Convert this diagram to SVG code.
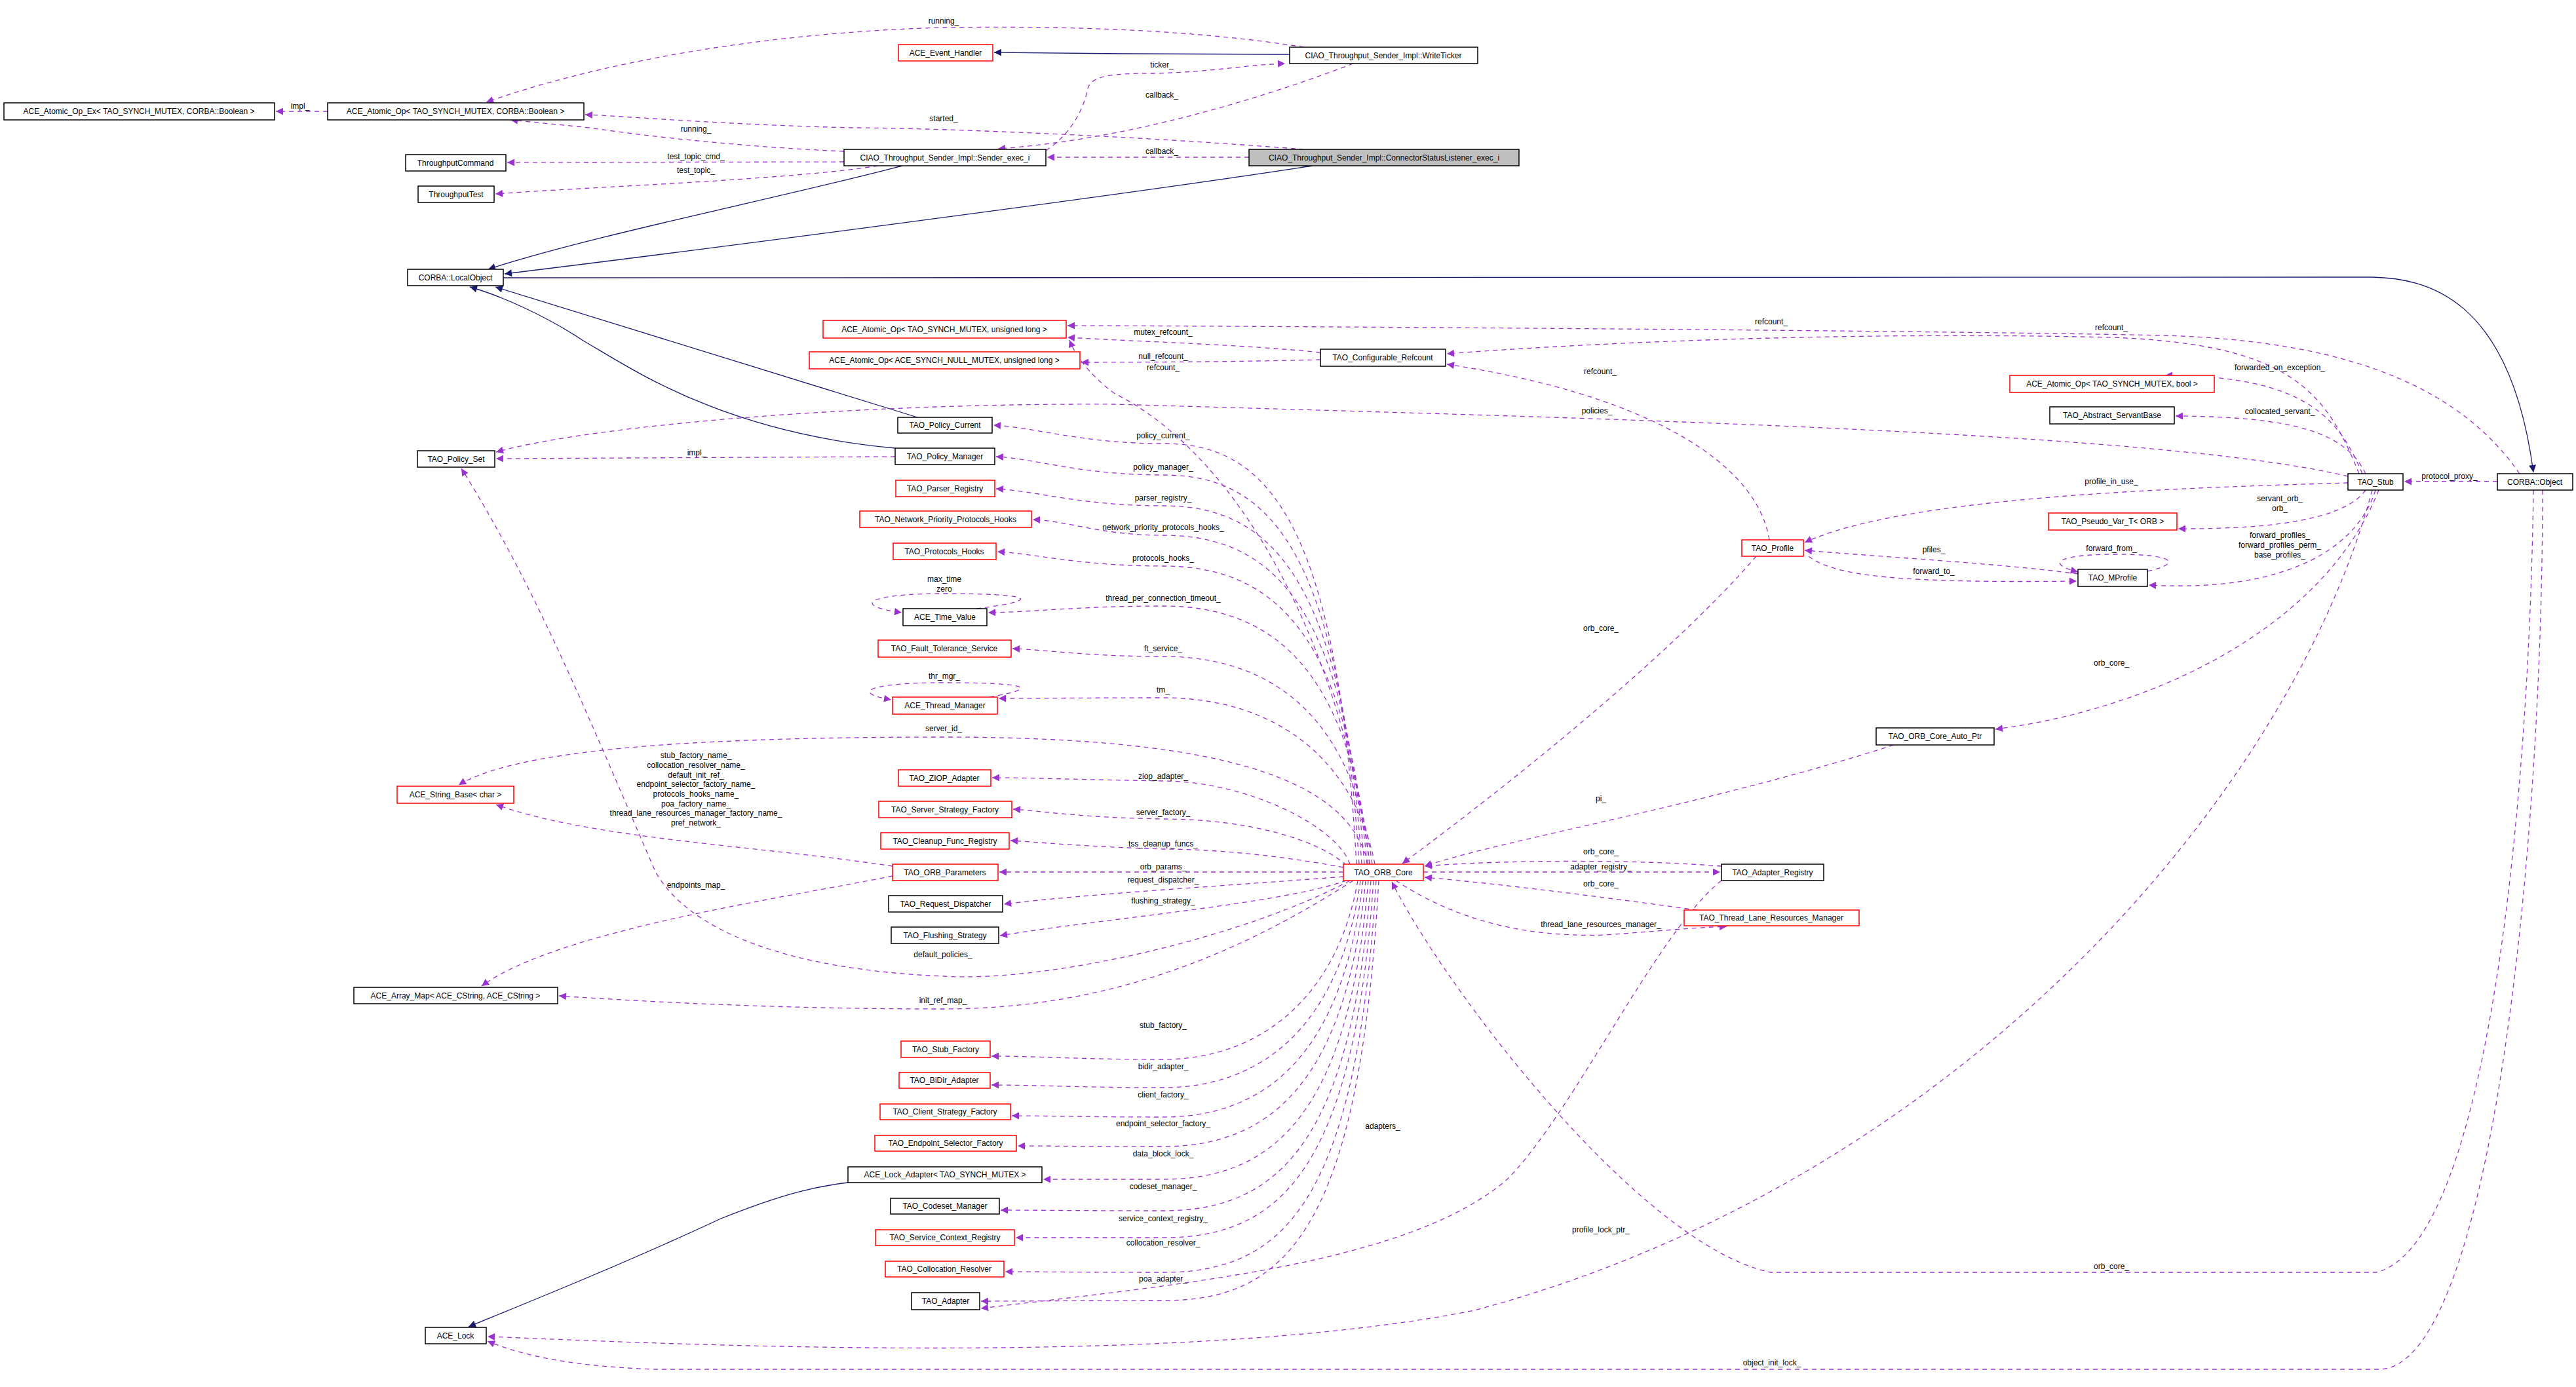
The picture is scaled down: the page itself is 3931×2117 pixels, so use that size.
<svg xmlns="http://www.w3.org/2000/svg" width="3931" height="2117" viewBox="0 0 3931 2117">
<style>
.n rect{fill:#fff;stroke:#000;stroke-width:1.5}
.n.r rect{stroke:#ff0000}
.n.g rect{fill:#bfbfbf}
text{font-family:"Liberation Sans",Arial,sans-serif;font-size:12px;fill:#000}
.n text{text-anchor:middle}
.l text{text-anchor:middle}
.e path{fill:none;stroke:#9a32cd;stroke-width:1.3;stroke-dasharray:7,6;marker-end:url(#ap)}
.e path.i{stroke:#191970;stroke-dasharray:none;marker-end:url(#an)}
</style>
<defs>
<marker id="ap" viewBox="0 0 10 10" refX="10" refY="5" markerWidth="14" markerHeight="11" markerUnits="userSpaceOnUse" orient="auto"><path d="M0,0 L10,5 L0,10 z" fill="#9a32cd"/></marker>
<marker id="an" viewBox="0 0 10 10" refX="10" refY="5" markerWidth="14" markerHeight="11" markerUnits="userSpaceOnUse" orient="auto"><path d="M0,0 L10,5 L0,10 z" fill="#191970"/></marker>
</defs>
<rect width="3931" height="2117" fill="#fff"/>
<g id="edges" class="e">
<path class="i" d="M1968,83 L1715,82 L1517,80"/>
<path class="i" d="M1377,253 C1200,300 900,360 745,411"/>
<path class="i" d="M2003,253 C1700,300 1000,390 770,418"/>
<path class="i" d="M1400,637 L756,438"/>
<path class="i" d="M1366,684 C1100,660 960,560 890,520 C830,480 760,450 717,438"/>
<path class="i" d="M768,424 L3620,423 C3700,425 3830,450 3866,721"/>
<path class="i" d="M1294,1805 C1250,1810 1200,1820 1100,1860 C950,1930 800,1990 715,2025"/>
<path d="M500,170 L421,170"/>
<path d="M1990,72 C1800,42 1600,40 1440,42 C1150,50 900,100 742,156"/>
<path d="M1990,228 C1700,205 1400,195 1300,195 C1100,190 950,177 893,175"/>
<path d="M1288,231 C1150,225 1000,210 900,195 L779,183"/>
<path d="M1288,247 L774,248"/>
<path d="M1340,253 C1200,275 900,285 756,296"/>
<path d="M1596,230 C1640,200 1655,160 1660,135 C1665,115 1700,112 1760,112 C1850,110 1900,99 1961,97"/>
<path d="M2065,97 C1900,160 1700,215 1523,227"/>
<path d="M1906,240 L1598,240"/>
<path d="M2015,538 C1900,526 1750,522 1629,515"/>
<path d="M2015,549 C1900,552 1750,553 1650,553"/>
<path d="M3845,723 C3760,600 3600,520 3300,512 C3000,505 2000,498 1629,497"/>
<path d="M3600,723 C3550,600 3500,525 3222,515 C2800,505 2400,525 2208,540"/>
<path d="M2700,824 C2680,700 2500,600 2208,556"/>
<path d="M2090,1319 C2050,1000 1900,700 1700,600 C1660,570 1640,540 1632,519"/>
<path d="M3583,727 C3300,660 2500,640 1700,617 C1300,615 900,650 757,690"/>
<path d="M1366,697 L757,700"/>
<path d="M3605,723 C3570,640 3520,573 3304,573"/>
<path d="M3610,723 C3580,660 3500,636 3320,635"/>
<path d="M3811,735 L3669,735"/>
<path d="M3583,737 C3300,745 2900,760 2754,828"/>
<path d="M3610,748 C3580,790 3480,808 3324,807"/>
<path d="M3625,748 C3600,830 3500,905 3279,893"/>
<path d="M3171,876 C3050,860 2900,852 2754,840"/>
<path d="M2760,849 C2800,880 2900,890 3169,887"/>
<path d="M3277,872 C3330,860 3320,846 3230,846 C3140,846 3120,860 3171,873"/>
<path d="M3630,748 C3550,950 3300,1080 3045,1113"/>
<path d="M3620,748 C3500,1200 3000,1800 2250,2000 C1800,2090 1000,2050 744,2040"/>
<path d="M3866,748 C3860,1200 3800,1900 3626,1942 L2702,1942 C2500,1900 2200,1500 2124,1346"/>
<path d="M3880,748 C3880,1300 3800,2090 3630,2090 L1000,2090 C850,2085 780,2062 744,2047"/>
<path d="M2680,849 C2550,1000 2300,1200 2140,1318"/>
<path d="M2890,1137 C2600,1230 2300,1280 2174,1322"/>
<path d="M2627,1322 C2500,1312 2300,1312 2174,1322"/>
<path d="M2172,1331 L2625,1331"/>
<path d="M2590,1389 C2450,1370 2300,1350 2174,1339"/>
<path d="M2130,1344 C2200,1390 2300,1432 2450,1427 C2520,1422 2580,1416 2635,1414"/>
<path d="M2627,1344 C2530,1420 2400,1700 2300,1800 C2150,1930 1800,1960 1497,1997"/>
<path d="M2070,1319 C2040,777 1925,677 1775,677 C1650,677 1580,652 1516,649"/>
<path d="M2074,1319 C2044,825 1929,725 1775,725 C1650,725 1580,700 1520,697"/>
<path d="M2078,1319 C2048,872 1933,772 1775,772 C1650,772 1580,749 1520,746"/>
<path d="M2082,1319 C2052,917 1937,817 1775,817 C1680,817 1630,795 1576,793"/>
<path d="M2086,1319 C2056,964 1941,864 1775,864 C1650,864 1580,845 1522,842"/>
<path d="M2090,1319 C2060,1025 1945,925 1775,925 C1650,925 1580,934 1508,935"/>
<path d="M2094,1319 C2064,1102 1949,1002 1775,1002 C1660,1002 1600,992 1545,990"/>
<path d="M2098,1319 C2068,1165 1953,1065 1775,1065 C1650,1065 1590,1066 1524,1066"/>
<path d="M2088,1319 C2060,1200 1900,1125 1440,1125 C1000,1125 780,1150 700,1198"/>
<path d="M2060,1319 C2040,1260 1900,1192 1775,1192 C1650,1190 1570,1187 1514,1187"/>
<path d="M2055,1321 C2010,1280 1900,1250 1775,1250 C1650,1248 1590,1238 1546,1235"/>
<path d="M2050,1324 C1950,1305 1850,1296 1775,1296 C1650,1292 1580,1285 1542,1283"/>
<path d="M2050,1331 L1525,1331"/>
<path d="M2050,1338 C1900,1350 1650,1365 1532,1380"/>
<path d="M2055,1344 C1950,1380 1700,1400 1526,1428"/>
<path d="M2060,1344 C1900,1430 1600,1500 1440,1490 C1200,1480 1050,1420 1000,1330 C900,1100 820,900 704,715"/>
<path d="M2065,1344 C1900,1450 1700,1540 1440,1540 C1200,1540 1000,1530 853,1520"/>
<path d="M2072,1344 C2042,1517 1927,1617 1775,1617 C1650,1617 1580,1612 1513,1612"/>
<path d="M2076,1344 C2046,1560 1931,1660 1775,1660 C1650,1660 1580,1656 1513,1656"/>
<path d="M2080,1344 C2050,1605 1935,1705 1775,1705 C1650,1705 1600,1703 1544,1703"/>
<path d="M2084,1344 C2054,1650 1939,1750 1775,1750 C1650,1750 1600,1749 1553,1749"/>
<path d="M2088,1344 C2058,1700 1943,1800 1775,1800 C1680,1800 1640,1800 1592,1800"/>
<path d="M2092,1344 C2062,1748 1947,1848 1775,1848 C1650,1848 1580,1847 1527,1847"/>
<path d="M2096,1344 C2066,1789 1951,1889 1775,1889 C1650,1889 1600,1889 1550,1889"/>
<path d="M2100,1344 C2070,1842 1955,1942 1775,1942 C1650,1942 1580,1941 1534,1941"/>
<path d="M2104,1344 C2074,1885 1959,1985 1775,1985 C1650,1985 1560,1986 1497,1986"/>
<path d="M1490,929 C1600,915 1570,906 1440,906 C1320,906 1300,925 1376,935"/>
<path d="M1510,1064 C1590,1050 1570,1042 1440,1042 C1320,1042 1300,1058 1360,1068"/>
<path d="M1362,1322 C1150,1290 900,1280 757,1228"/>
<path d="M1362,1337 C1200,1370 850,1420 735,1505"/>
</g>
<g id="labels" class="l">
<text x="458" y="166">impl_</text>
<text x="1440" y="36">running_</text>
<text x="1440" y="185">started_</text>
<text x="1062" y="201">running_</text>
<text x="1062" y="243">test_topic_cmd_</text>
<text x="1062" y="264">test_topic_</text>
<text x="1773" y="103">ticker_</text>
<text x="1773" y="149">callback_</text>
<text x="1773" y="235">callback_</text>
<text x="1775" y="511">mutex_refcount_</text>
<text x="1775" y="548">null_refcount_</text>
<text x="1775" y="565">refcount_</text>
<text x="2703" y="495">refcount_</text>
<text x="3222" y="504">refcount_</text>
<text x="2442" y="571">refcount_</text>
<text x="2437" y="631">policies_</text>
<text x="1063" y="695">impl_</text>
<text x="3479" y="565">forwarded_on_exception_</text>
<text x="3479" y="632">collocated_servant_</text>
<text x="3738" y="731">protocol_proxy_</text>
<text x="3222" y="739">profile_in_use_</text>
<text x="3479" y="765">servant_orb_</text>
<text x="3479" y="780">orb_</text>
<text x="3479" y="821">forward_profiles_</text>
<text x="3479" y="836">forward_profiles_perm_</text>
<text x="3479" y="851">base_profiles_</text>
<text x="3222" y="841">forward_from_</text>
<text x="2951" y="843">pfiles_</text>
<text x="2951" y="876">forward_to_</text>
<text x="1775" y="669">policy_current_</text>
<text x="1775" y="717">policy_manager_</text>
<text x="1775" y="764">parser_registry_</text>
<text x="1775" y="809">network_priority_protocols_hooks_</text>
<text x="1775" y="856">protocols_hooks_</text>
<text x="1441" y="888">max_time</text>
<text x="1441" y="903">zero</text>
<text x="1775" y="917">thread_per_connection_timeout_</text>
<text x="1775" y="994">ft_service_</text>
<text x="1441" y="1036">thr_mgr_</text>
<text x="1775" y="1057">tm_</text>
<text x="1440" y="1116">server_id_</text>
<text x="1062" y="1157">stub_factory_name_</text>
<text x="1062" y="1172">collocation_resolver_name_</text>
<text x="1062" y="1187">default_init_ref_</text>
<text x="1062" y="1201">endpoint_selector_factory_name_</text>
<text x="1062" y="1216">protocols_hooks_name_</text>
<text x="1062" y="1231">poa_factory_name_</text>
<text x="1062" y="1245">thread_lane_resources_manager_factory_name_</text>
<text x="1062" y="1260">pref_network_</text>
<text x="1775" y="1189">ziop_adapter_</text>
<text x="1775" y="1244">server_factory_</text>
<text x="1775" y="1292">tss_cleanup_funcs_</text>
<text x="1775" y="1327">orb_params_</text>
<text x="1775" y="1347">request_dispatcher_</text>
<text x="1775" y="1379">flushing_strategy_</text>
<text x="1062" y="1355">endpoints_map_</text>
<text x="1439" y="1461">default_policies_</text>
<text x="1439" y="1531">init_ref_map_</text>
<text x="1775" y="1569">stub_factory_</text>
<text x="1775" y="1632">bidir_adapter_</text>
<text x="1775" y="1675">client_factory_</text>
<text x="1775" y="1719">endpoint_selector_factory_</text>
<text x="1775" y="1765">data_block_lock_</text>
<text x="1775" y="1815">codeset_manager_</text>
<text x="1775" y="1864">service_context_registry_</text>
<text x="1775" y="1901">collocation_resolver_</text>
<text x="1775" y="1956">poa_adapter_</text>
<text x="2110" y="1723">adapters_</text>
<text x="2443" y="963">orb_core_</text>
<text x="3222" y="1016">orb_core_</text>
<text x="2443" y="1223">pi_</text>
<text x="2443" y="1304">orb_core_</text>
<text x="2443" y="1327">adapter_registry_</text>
<text x="2443" y="1353">orb_core_</text>
<text x="2443" y="1415">thread_lane_resources_manager_</text>
<text x="2443" y="1881">profile_lock_ptr_</text>
<text x="3222" y="1937">orb_core_</text>
<text x="2704" y="2084">object_init_lock_</text>
</g>
<g id="n1" class="n"><rect x="6" y="157" width="413" height="26"/><text x="212" y="174">ACE_Atomic_Op_Ex&lt; TAO_SYNCH_MUTEX, CORBA::Boolean &gt;</text></g>
<g id="n2" class="n"><rect x="500" y="157" width="391" height="26"/><text x="695" y="174">ACE_Atomic_Op&lt; TAO_SYNCH_MUTEX, CORBA::Boolean &gt;</text></g>
<g id="n3" class="n"><rect x="619" y="236" width="153" height="25"/><text x="695" y="253">ThroughputCommand</text></g>
<g id="n4" class="n"><rect x="638" y="284" width="116" height="25"/><text x="696" y="301">ThroughputTest</text></g>
<g id="n5" class="n"><rect x="622" y="411" width="146" height="25"/><text x="695" y="428">CORBA::LocalObject</text></g>
<g id="n6" class="n r"><rect x="1371" y="68" width="144" height="25"/><text x="1443" y="85">ACE_Event_Handler</text></g>
<g id="n7" class="n"><rect x="1968" y="72" width="287" height="25"/><text x="2111" y="89">CIAO_Throughput_Sender_Impl::WriteTicker</text></g>
<g id="n8" class="n"><rect x="1288" y="228" width="308" height="25"/><text x="1442" y="245">CIAO_Throughput_Sender_Impl::Sender_exec_i</text></g>
<g id="n9" class="n g"><rect x="1906" y="228" width="412" height="25"/><text x="2112" y="245">CIAO_Throughput_Sender_Impl::ConnectorStatusListener_exec_i</text></g>
<g id="n10" class="n r"><rect x="1256" y="489" width="371" height="27"/><text x="1441" y="507">ACE_Atomic_Op&lt; TAO_SYNCH_MUTEX, unsigned long &gt;</text></g>
<g id="n11" class="n r"><rect x="1235" y="537" width="413" height="26"/><text x="1441" y="554">ACE_Atomic_Op&lt; ACE_SYNCH_NULL_MUTEX, unsigned long &gt;</text></g>
<g id="n12" class="n"><rect x="2015" y="533" width="191" height="26"/><text x="2110" y="550">TAO_Configurable_Refcount</text></g>
<g id="n13" class="n r"><rect x="3067" y="573" width="312" height="26"/><text x="3223" y="590">ACE_Atomic_Op&lt; TAO_SYNCH_MUTEX, bool &gt;</text></g>
<g id="n14" class="n"><rect x="3128" y="621" width="190" height="26"/><text x="3223" y="638">TAO_Abstract_ServantBase</text></g>
<g id="n15" class="n"><rect x="3583" y="723" width="84" height="25"/><text x="3625" y="740">TAO_Stub</text></g>
<g id="n16" class="n"><rect x="3811" y="723" width="115" height="25"/><text x="3868" y="740">CORBA::Object</text></g>
<g id="n17" class="n"><rect x="637" y="688" width="118" height="25"/><text x="696" y="705">TAO_Policy_Set</text></g>
<g id="n18" class="n"><rect x="1370" y="637" width="144" height="24"/><text x="1442" y="653">TAO_Policy_Current</text></g>
<g id="n19" class="n"><rect x="1366" y="684" width="152" height="25"/><text x="1442" y="701">TAO_Policy_Manager</text></g>
<g id="n20" class="n r"><rect x="1367" y="733" width="151" height="25"/><text x="1442" y="750">TAO_Parser_Registry</text></g>
<g id="n21" class="n r"><rect x="1312" y="780" width="262" height="25"/><text x="1443" y="797">TAO_Network_Priority_Protocols_Hooks</text></g>
<g id="n22" class="n r"><rect x="1363" y="829" width="157" height="25"/><text x="1441" y="846">TAO_Protocols_Hooks</text></g>
<g id="n23" class="n r"><rect x="3126" y="783" width="196" height="26"/><text x="3224" y="800">TAO_Pseudo_Var_T&lt; ORB &gt;</text></g>
<g id="n24" class="n r"><rect x="2658" y="824" width="94" height="25"/><text x="2705" y="841">TAO_Profile</text></g>
<g id="n25" class="n"><rect x="3171" y="869" width="106" height="26"/><text x="3224" y="886">TAO_MProfile</text></g>
<g id="n26" class="n"><rect x="1378" y="929" width="128" height="26"/><text x="1442" y="946">ACE_Time_Value</text></g>
<g id="n27" class="n r"><rect x="1340" y="977" width="203" height="26"/><text x="1441" y="994">TAO_Fault_Tolerance_Service</text></g>
<g id="n28" class="n r"><rect x="1362" y="1064" width="160" height="26"/><text x="1442" y="1081">ACE_Thread_Manager</text></g>
<g id="n29" class="n"><rect x="2863" y="1111" width="180" height="26"/><text x="2953" y="1128">TAO_ORB_Core_Auto_Ptr</text></g>
<g id="n30" class="n r"><rect x="1371" y="1175" width="141" height="25"/><text x="1441" y="1192">TAO_ZIOP_Adapter</text></g>
<g id="n31" class="n r"><rect x="606" y="1200" width="178" height="26"/><text x="695" y="1217">ACE_String_Base&lt; char &gt;</text></g>
<g id="n32" class="n r"><rect x="1341" y="1223" width="203" height="25"/><text x="1442" y="1240">TAO_Server_Strategy_Factory</text></g>
<g id="n33" class="n r"><rect x="1344" y="1271" width="196" height="25"/><text x="1442" y="1288">TAO_Cleanup_Func_Registry</text></g>
<g id="n34" class="n r"><rect x="1362" y="1319" width="161" height="25"/><text x="1442" y="1336">TAO_ORB_Parameters</text></g>
<g id="n35" class="n r"><rect x="2050" y="1319" width="122" height="25"/><text x="2111" y="1336">TAO_ORB_Core</text></g>
<g id="n36" class="n"><rect x="2627" y="1319" width="156" height="25"/><text x="2705" y="1336">TAO_Adapter_Registry</text></g>
<g id="n37" class="n"><rect x="1356" y="1367" width="174" height="25"/><text x="1443" y="1384">TAO_Request_Dispatcher</text></g>
<g id="n38" class="n r"><rect x="2570" y="1389" width="267" height="24"/><text x="2703" y="1405">TAO_Thread_Lane_Resources_Manager</text></g>
<g id="n39" class="n"><rect x="1360" y="1415" width="164" height="25"/><text x="1442" y="1432">TAO_Flushing_Strategy</text></g>
<g id="n40" class="n"><rect x="540" y="1507" width="311" height="25"/><text x="695" y="1524">ACE_Array_Map&lt; ACE_CString, ACE_CString &gt;</text></g>
<g id="n41" class="n r"><rect x="1375" y="1589" width="136" height="25"/><text x="1443" y="1606">TAO_Stub_Factory</text></g>
<g id="n42" class="n r"><rect x="1372" y="1637" width="139" height="24"/><text x="1441" y="1653">TAO_BiDir_Adapter</text></g>
<g id="n43" class="n r"><rect x="1343" y="1685" width="199" height="24"/><text x="1442" y="1701">TAO_Client_Strategy_Factory</text></g>
<g id="n44" class="n r"><rect x="1335" y="1733" width="216" height="24"/><text x="1443" y="1749">TAO_Endpoint_Selector_Factory</text></g>
<g id="n45" class="n"><rect x="1294" y="1781" width="296" height="24"/><text x="1442" y="1797">ACE_Lock_Adapter&lt; TAO_SYNCH_MUTEX &gt;</text></g>
<g id="n46" class="n"><rect x="1359" y="1829" width="166" height="24"/><text x="1442" y="1845">TAO_Codeset_Manager</text></g>
<g id="n47" class="n r"><rect x="1336" y="1877" width="212" height="24"/><text x="1442" y="1893">TAO_Service_Context_Registry</text></g>
<g id="n48" class="n r"><rect x="1351" y="1925" width="181" height="24"/><text x="1441" y="1941">TAO_Collocation_Resolver</text></g>
<g id="n49" class="n"><rect x="1391" y="1973" width="104" height="26"/><text x="1443" y="1990">TAO_Adapter</text></g>
<g id="n50" class="n"><rect x="649" y="2026" width="93" height="25"/><text x="695" y="2043">ACE_Lock</text></g>
</svg>
